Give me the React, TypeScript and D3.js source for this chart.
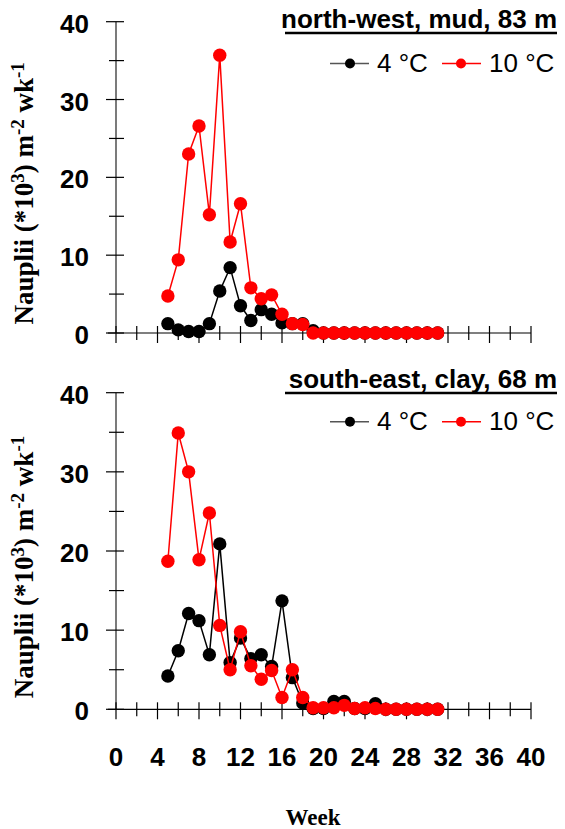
import React from "react";
import * as d3 from "d3";

// weeks sampled
const weeks = [5, 6, 7, 8, 9, 10, 11, 12, 13, 14, 15, 16, 17, 18, 19, 20, 21, 22, 23, 24, 25, 26, 27, 28, 29, 30, 31];

// north-west, mud, 83 m
const nw4C = [1.2, 0.4, 0.2, 0.2, 1.2, 5.4, 8.4, 3.5, 1.6, 3.0, 2.4, 1.3, 1.2, 1.2, 0.3, 0, 0, 0, 0, 0, 0, 0, 0, 0, 0, 0, 0];
const nw10C = [4.75, 9.4, 23.0, 26.6, 15.2, 35.7, 11.7, 16.6, 5.8, 4.4, 4.9, 2.4, 1.2, 1.1, 0, 0, 0, 0, 0, 0, 0, 0, 0, 0, 0, 0, 0];

// south-east, clay, 68 m
const se4C = [4.2, 7.4, 12.1, 11.2, 6.9, 20.9, 5.9, 9.0, 6.4, 6.9, 5.4, 13.7, 4.0, 0.8, 0.1, 0.1, 1.0, 1.0, 0.1, 0.1, 0.7, 0, 0, 0, 0, 0, 0];
const se10C = [18.7, 34.9, 30.0, 18.9, 24.8, 10.6, 5.0, 9.8, 5.5, 3.8, 4.9, 1.5, 5.0, 1.5, 0.2, 0.2, 0.2, 0.5, 0.1, 0.2, 0.1, 0, 0, 0, 0, 0, 0];

const xTickLabels = [0, 4, 8, 12, 16, 20, 24, 28, 32, 36, 40];
const yTickLabels = [0, 10, 20, 30, 40];
const seriesNames = ["4 °C", "10 °C"];
const seriesColors = ["#000000", "#ff0000"];

const WIDTH = 565;
const HEIGHT = 829;
const SANS = "'Liberation Sans', Arial, sans-serif";
const SERIF = "'Liberation Serif', 'Times New Roman', serif";

const x = d3.scaleLinear([0, 40], [116, 531]);

interface IPanelProps {
    title: string;
    top: number;      // y pixel of value 40
    bottom: number;   // y pixel of value 0
    titleY: number;
    legendY: number;
    series: number[][];
    showXLabels: boolean;
}

function Panel(props: IPanelProps) {
    const y = d3.scaleLinear([0, 40], [props.bottom, props.top]);
    const line = d3.line<number>()
        .x((d, i) => x(weeks[i]))
        .y((d) => y(d));

    const xTicks = d3.range(0, 41, 2);
    const yTicks = d3.range(0, 41, 5);
    const x0 = x(0);
    const titleW = 272;

    return <g>
        {/* axes */}
        <line x1={x0} x2={x0} y1={props.top} y2={props.bottom} stroke="#222" strokeWidth={1.2} />
        <line x1={x0 - 8} x2={x(40)} y1={props.bottom} y2={props.bottom} stroke="#000" strokeWidth={1.2} />
        {yTicks.map((t) => (
            <line key={"y" + t} x1={x0 - (t % 10 === 0 ? 10 : 7)} x2={x0 + 8}
                y1={y(t)} y2={y(t)} stroke="#000" strokeWidth={1.2} />
        ))}
        {xTicks.map((t) => (
            <line key={"x" + t} x1={x(t)} x2={x(t)}
                y1={props.bottom - 7} y2={props.bottom + (t % 4 === 0 ? 10 : 7)}
                stroke="#000" strokeWidth={1.2} />
        ))}
        {yTickLabels.map((t) => (
            <text key={"yl" + t} x={89} y={y(t) + 11} textAnchor="end"
                fontFamily={SANS} fontWeight="bold" fontSize={26}>{t}</text>
        ))}
        {props.showXLabels && xTickLabels.map((t) => (
            <text key={"xl" + t} x={x(t)} y={766} textAnchor="middle"
                fontFamily={SANS} fontWeight="bold" fontSize={26}>{t}</text>
        ))}

        {/* y axis title */}
        <text transform={`translate(33,${(props.top + props.bottom) / 2 + 16}) rotate(-90)`}
            textAnchor="middle" fontFamily={SERIF} fontWeight="bold" fontSize={27}>
            Nauplii (*10<tspan fontSize={19} dy={-9}>3</tspan>
            <tspan dy={9}>) m</tspan>
            <tspan fontSize={19} dy={-9}>-2</tspan>
            <tspan dy={9}> wk</tspan>
            <tspan fontSize={19} dy={-9}>-1</tspan>
        </text>

        {/* series */}
        {props.series.map((s, si) => (
            <g key={"s" + si}>
                <path d={line(s)!} fill="none" stroke={seriesColors[si]} strokeWidth={1.5} />
                {s.map((v, i) => (
                    <circle key={i} cx={x(weeks[i])} cy={y(v)} r={6.7} fill={seriesColors[si]} />
                ))}
            </g>
        ))}

        {/* title */}
        <text x={557} y={props.titleY} textAnchor="end" fontFamily={SANS} fontWeight="bold" fontSize={26}>
            {props.title}
        </text>
        <line x1={557 - titleW} x2={557} y1={props.titleY + 5} y2={props.titleY + 5} stroke="#000" strokeWidth={2.5} />

        {/* legend */}
        <g>
            <line x1={330} x2={369} y1={props.legendY} y2={props.legendY} stroke="#555" strokeWidth={1.5} />
            <circle cx={350} cy={props.legendY} r={5} fill={seriesColors[0]} />
            <text x={377} y={props.legendY + 8} fontFamily={SANS} fontSize={26}>{seriesNames[0]}</text>
            <line x1={442} x2={481} y1={props.legendY} y2={props.legendY} stroke={seriesColors[1]} strokeWidth={1.5} />
            <circle cx={461} cy={props.legendY} r={5} fill={seriesColors[1]} />
            <text x={489} y={props.legendY + 8} fontFamily={SANS} fontSize={26}>{seriesNames[1]}</text>
        </g>
    </g>;
}

export default function App() {
    return <svg width={WIDTH} height={HEIGHT} style={{ position: "absolute", left: 0, top: 0, background: "#fff" }}>
        <Panel title="north-west, mud, 83 m" top={21.7} bottom={333} titleY={28}
            legendY={63.5} series={[nw4C, nw10C]} showXLabels={false} />
        <Panel title="south-east, clay, 68 m" top={392.7} bottom={709.3} titleY={388}
            legendY={421.7} series={[se4C, se10C]} showXLabels={true} />
        <text x={313} y={825} textAnchor="middle" fontFamily={SERIF} fontWeight="bold" fontSize={23}>Week</text>
    </svg>;
}
